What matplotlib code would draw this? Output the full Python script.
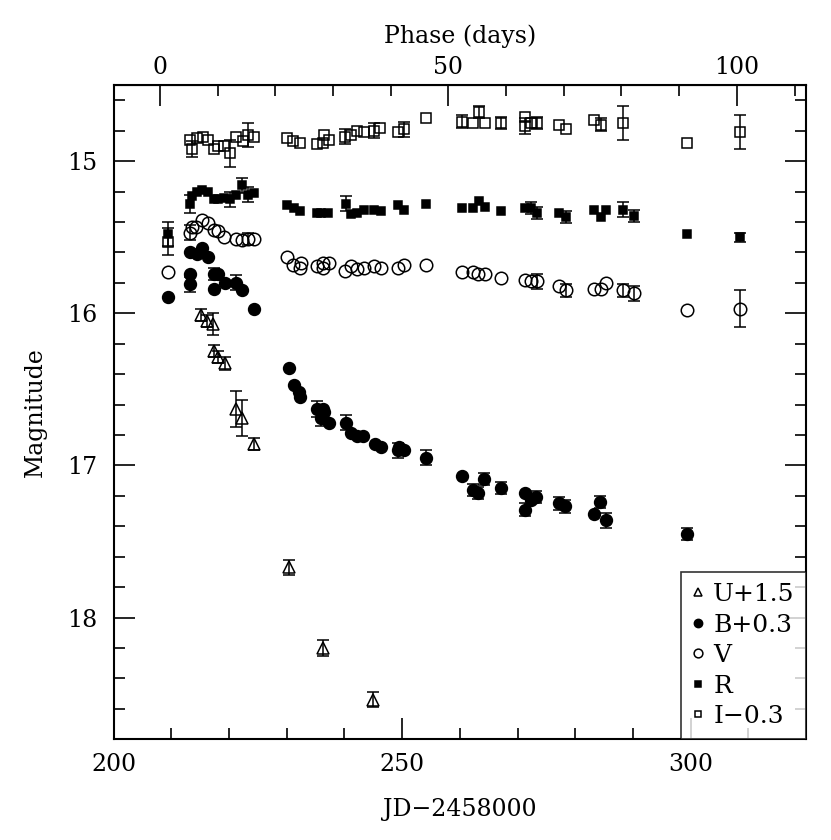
import numpy as np
import matplotlib
matplotlib.use("Agg")
import matplotlib.pyplot as plt
from matplotlib.ticker import MultipleLocator, FixedLocator

plt.rcParams['font.family'] = ['DejaVu Serif']
plt.rcParams['mathtext.default'] = 'regular'

# Epoch of phase zero (JD - 2458000)
PHASE_ZERO = 208.0

# U + 1.5
u_jd = [215.2, 216.1, 217.2, 217.4, 218.1, 219.3, 221.2, 222.2, 224.3, 230.4, 236.3, 245.0]
u_mag = [16.01, 16.05, 16.07, 16.25, 16.29, 16.33, 16.63, 16.69, 16.86, 17.67, 18.20, 18.54]
u_err = [0.04, 0.04, 0.07, 0.04, 0.04, 0.04, 0.12, 0.12, 0.04, 0.05, 0.05, 0.05]

# B + 0.3
b_jd = [209.4, 213.3, 214.4, 215.3, 216.3, 213.2, 213.2, 217.3, 218.1, 217.4, 219.3, 221.2,
        222.2, 224.3, 230.3, 231.2, 232.2, 232.3, 235.3, 236.2, 236.4, 236.0, 237.3, 240.3,
        241.1, 242.1, 243.2, 245.3, 246.3, 249.2, 249.4, 250.3, 254.2, 260.3, 262.3, 263.2,
        264.2, 267.2, 271.3, 271.3, 272.3, 273.2, 277.2, 278.2, 283.2, 284.2, 285.3, 299.3]
b_mag = [15.89, 15.60, 15.61, 15.57, 15.63, 15.74, 15.81, 15.74, 15.74, 15.84, 15.80, 15.80,
         15.85, 15.97, 16.36, 16.47, 16.52, 16.55, 16.63, 16.63, 16.65, 16.69, 16.72, 16.72,
         16.79, 16.81, 16.81, 16.86, 16.88, 16.90, 16.88, 16.90, 16.95, 17.07, 17.16, 17.18,
         17.09, 17.15, 17.18, 17.29, 17.23, 17.21, 17.25, 17.27, 17.32, 17.24, 17.36, 17.45]
b_err = [0, 0, 0, 0, 0, 0, 0.05, 0.04, 0, 0, 0, 0.05,
         0, 0, 0, 0, 0, 0, 0.05, 0, 0, 0.05, 0, 0.05,
         0, 0, 0, 0, 0, 0.05, 0, 0, 0.05, 0, 0.04, 0.04,
         0.04, 0.04, 0, 0.04, 0, 0.04, 0.04, 0.04, 0, 0.04, 0.05, 0.04]

# V
v_jd = [209.4, 213.2, 213.6, 214.2, 215.3, 216.3, 217.3, 218.1, 219.1, 221.2, 222.2, 223.3,
        224.3, 230.1, 231.1, 232.3, 232.5, 235.2, 236.2, 236.3, 237.4, 240.1, 241.2, 242.2,
        243.3, 245.2, 246.3, 249.2, 250.3, 254.1, 260.3, 262.2, 263.2, 264.4, 267.2, 271.3,
        272.3, 273.3, 277.2, 278.4, 283.2, 284.4, 285.3, 288.3, 290.2, 299.3, 308.5]
v_mag = [15.73, 15.47, 15.43, 15.43, 15.39, 15.41, 15.45, 15.46, 15.50, 15.51, 15.52, 15.51,
         15.51, 15.63, 15.68, 15.70, 15.67, 15.69, 15.70, 15.67, 15.67, 15.72, 15.69, 15.71,
         15.70, 15.69, 15.70, 15.70, 15.68, 15.68, 15.73, 15.73, 15.74, 15.74, 15.77, 15.78,
         15.79, 15.79, 15.82, 15.85, 15.84, 15.84, 15.80, 15.85, 15.87, 15.98, 15.97]
v_err = [0, 0.05, 0, 0, 0, 0, 0, 0, 0, 0, 0, 0.04,
         0, 0, 0, 0, 0, 0, 0, 0, 0, 0, 0, 0,
         0, 0, 0, 0, 0, 0, 0, 0, 0, 0, 0, 0,
         0, 0.05, 0, 0.04, 0, 0, 0, 0.04, 0.05, 0, 0.12]

# R
r_jd = [209.4, 213.2, 213.6, 214.4, 215.3, 216.3, 217.3, 218.1, 219.1, 220.2, 221.2, 222.2,
        223.3, 224.3, 230.1, 231.2, 232.3, 235.2, 236.0, 237.2, 240.2, 241.2, 242.2, 243.3,
        245.2, 246.3, 249.2, 250.3, 254.2, 260.3, 262.2, 263.4, 264.4, 267.2, 271.3, 272.3,
        273.3, 277.2, 278.4, 283.2, 284.4, 285.3, 288.3, 290.2, 299.3, 308.5]
r_mag = [15.48, 15.28, 15.23, 15.20, 15.19, 15.20, 15.25, 15.25, 15.24, 15.25, 15.22, 15.16,
         15.22, 15.21, 15.29, 15.31, 15.33, 15.34, 15.34, 15.34, 15.28, 15.35, 15.34, 15.32,
         15.32, 15.33, 15.29, 15.32, 15.28, 15.31, 15.31, 15.26, 15.30, 15.33, 15.31, 15.31,
         15.34, 15.34, 15.37, 15.32, 15.37, 15.32, 15.32, 15.36, 15.48, 15.50]
r_err = [0.08, 0.06, 0, 0, 0, 0, 0, 0, 0, 0.05, 0, 0.05,
         0.05, 0, 0, 0, 0, 0, 0, 0, 0.05, 0, 0, 0,
         0, 0, 0, 0, 0, 0, 0, 0, 0, 0, 0, 0.04,
         0.04, 0, 0.04, 0, 0, 0, 0.05, 0.04, 0, 0.03]

# I - 0.3
i_jd = [209.4, 213.3, 213.5, 214.4, 215.4, 216.4, 217.3, 218.1, 219.1, 220.2, 221.2, 222.4,
        223.2, 224.3, 230.1, 231.1, 232.3, 235.2, 236.2, 236.5, 237.4, 240.1, 241.2, 242.2,
        243.3, 245.2, 246.2, 249.2, 250.3, 254.1, 260.3, 262.3, 263.4, 264.4, 267.2, 271.3,
        271.3, 272.3, 273.3, 277.2, 278.4, 283.2, 284.4, 288.3, 299.3, 308.5]
i_mag = [15.53, 14.86, 14.92, 14.85, 14.84, 14.86, 14.92, 14.90, 14.90, 14.95, 14.84, 14.87,
         14.83, 14.84, 14.85, 14.87, 14.88, 14.89, 14.88, 14.83, 14.86, 14.84, 14.83, 14.80,
         14.81, 14.80, 14.78, 14.81, 14.79, 14.72, 14.74, 14.75, 14.68, 14.75, 14.75, 14.71,
         14.77, 14.75, 14.75, 14.76, 14.79, 14.73, 14.76, 14.75, 14.88, 14.81]
i_err = [0.09, 0, 0.05, 0, 0, 0, 0, 0, 0, 0.09, 0, 0,
         0.08, 0, 0, 0, 0, 0, 0, 0, 0, 0.05, 0, 0,
         0, 0.05, 0, 0, 0.05, 0, 0.04, 0, 0.04, 0, 0.04, 0,
         0.05, 0, 0.04, 0, 0, 0, 0.04, 0.11, 0, 0.11]

phase_major = [0, 50, 100]
phase_minor = [10, 20, 30, 40, 60, 70, 80, 90, 110]

bands = [
    ("U+1.5", u_jd, u_mag, u_err, "^", 8, "none"),
    ("B+0.3", b_jd, b_mag, b_err, "o", 8.5, "black"),
    ("V", v_jd, v_mag, v_err, "o", 9, "none"),
    ("R", r_jd, r_mag, r_err, "s", 5.8, "black"),
    ("I\u22120.3", i_jd, i_mag, i_err, "s", 7, "none"),
]

FS = 17

fig = plt.figure(figsize=(8.31, 8.40), dpi=100)
ax = fig.add_axes([0.1368, 0.1199, 0.8332, 0.7789])

for label, jd, mag, err, marker, size, face in bands:
    jd = np.asarray(jd)
    mag = np.asarray(mag)
    err = np.asarray(err)
    has_err = err > 0
    # Error bars only where the original shows them
    ax.errorbar(jd[has_err], mag[has_err], yerr=err[has_err], fmt="none",
                ecolor="black", elinewidth=1.1, capsize=4, capthick=1.1, zorder=2)
    ax.plot(jd, mag, linestyle="none", marker=marker, markersize=size,
            markerfacecolor=face, markeredgecolor="black", markeredgewidth=1.1,
            label=label, zorder=3)

ax.set_xlim(200, 320)
ax.set_ylim(18.8, 14.5)

ax.xaxis.set_major_locator(MultipleLocator(50))
ax.xaxis.set_minor_locator(MultipleLocator(10))
ax.yaxis.set_major_locator(MultipleLocator(1))
ax.yaxis.set_minor_locator(MultipleLocator(0.2))
ax.tick_params(which="both", direction="in", right=True, top=False, width=1.2, labelsize=FS)
ax.tick_params(which="major", length=15)
ax.tick_params(which="minor", length=8)
ax.tick_params(axis="x", which="major", pad=10)
ax.tick_params(axis="y", which="major", pad=12)
for spine in ax.spines.values():
    spine.set_linewidth(1.5)

ax.set_xlabel("JD\u22122458000", fontsize=FS, labelpad=16)
ax.set_ylabel("Magnitude", fontsize=FS, labelpad=14)

# Phase axis on top
phase_ax = ax.secondary_xaxis("top", functions=(lambda x: x - PHASE_ZERO, lambda p: p + PHASE_ZERO))
phase_ax.xaxis.set_major_locator(FixedLocator(phase_major))
phase_ax.xaxis.set_minor_locator(FixedLocator(phase_minor))
phase_ax.tick_params(which="both", direction="in", width=1.2, labelsize=FS)
phase_ax.tick_params(which="major", length=15, pad=4)
phase_ax.tick_params(which="minor", length=8)
phase_ax.set_xlabel("Phase (days)", fontsize=FS, labelpad=10)

leg = ax.legend(loc="lower right", fontsize=18, frameon=True, fancybox=False,
                borderaxespad=0, handlelength=0.5, handletextpad=0.35,
                borderpad=0.45, labelspacing=0.3, markerscale=0.7)
leg.get_frame().set_edgecolor("black")
leg.get_frame().set_linewidth(1.2)

fig.savefig("out.png", dpi=100)
